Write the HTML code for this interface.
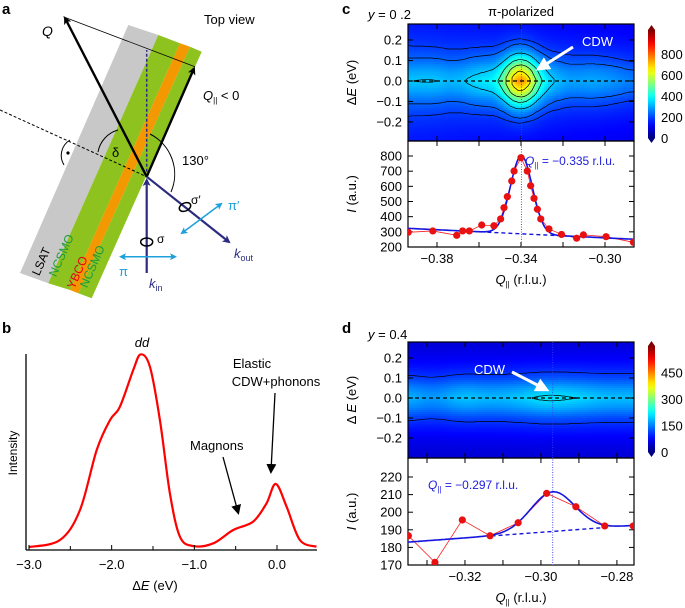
<!DOCTYPE html>
<html><head><meta charset="utf-8"><style>
html,body{margin:0;padding:0;background:#fff;}
svg{display:block;font-family:"Liberation Sans",sans-serif;}
</style></head><body>
<svg id="fig" width="685" height="608" viewBox="0 0 685 608" xmlns="http://www.w3.org/2000/svg">
<defs>
<marker id="ahK" markerWidth="8" markerHeight="8" refX="6" refY="4" orient="auto" markerUnits="userSpaceOnUse"><path d="M0,0 L8,4 L0,8 L2,4 Z" fill="#000"/></marker>
<marker id="ahN" markerWidth="8" markerHeight="8" refX="6" refY="4" orient="auto" markerUnits="userSpaceOnUse"><path d="M0,0 L8,4 L0,8 L2,4 Z" fill="#2b2b80"/></marker>
<marker id="ahB" markerWidth="7" markerHeight="7" refX="5" refY="3.5" orient="auto-start-reverse" markerUnits="userSpaceOnUse"><path d="M0,0 L7,3.5 L0,7 L1.5,3.5 Z" fill="#1ea0dc"/></marker>
<marker id="ahK2" markerWidth="10" markerHeight="10" refX="7" refY="5" orient="auto" markerUnits="userSpaceOnUse"><path d="M0,0 L10,5 L0,10 Z" fill="#000"/></marker>
<marker id="ahW" markerWidth="14" markerHeight="14" refX="9" refY="7" orient="auto" markerUnits="userSpaceOnUse"><path d="M0,0 L14,7 L0,14 Z" fill="#fff"/></marker>
<clipPath id="clipC"><rect x="408" y="24" width="226" height="117"/></clipPath>
<clipPath id="clipD"><rect x="408" y="342" width="226" height="116"/></clipPath>
<clipPath id="clipCL"><rect x="408" y="141" width="226" height="106"/></clipPath>
<clipPath id="clipDL"><rect x="408" y="458" width="226" height="107"/></clipPath>
</defs>

<g>
<text x="2" y="14" font-size="15" font-weight="bold">a</text>
<text x="204" y="24" font-size="13">Top view</text>
<polygon points="20,273 128.3,25 158.3,35 48.3,283.3" fill="#c8c8c8"/>
<polygon points="48.3,283.3 158.3,35 180,43.3 70,290" fill="#8dc21f"/>
<polygon points="70,290 180,43.3 190,46.7 78.3,293.3" fill="#f39800"/>
<polygon points="78.3,293.3 190,46.7 201.7,51.7 91.7,298.3" fill="#8dc21f"/>
<g font-size="12">
<text transform="translate(45,263) rotate(-66.4)" text-anchor="middle">LSAT</text>
<text transform="translate(65,257) rotate(-66.4)" text-anchor="middle" fill="#1a9a3a">NCSMO</text>
<text transform="translate(81,274) rotate(-66.4)" text-anchor="middle" fill="#e60012">YBCO</text>
<text transform="translate(96,268) rotate(-66.4)" text-anchor="middle" fill="#1a9a3a">NCSMO</text>
</g>
<line x1="146.7" y1="176.7" x2="146.7" y2="50" stroke="#2b2b80" stroke-width="1.5" stroke-dasharray="3,2"/>
<line x1="0" y1="110" x2="146.7" y2="176.7" stroke="#000" stroke-width="1" stroke-dasharray="3,2"/>
<line x1="63.3" y1="16.7" x2="195" y2="66.7" stroke="#000" stroke-width="0.8"/>
<line x1="146.7" y1="176.7" x2="65" y2="18" stroke="#000" stroke-width="2.4" marker-end="url(#ahK)"/>
<line x1="146.7" y1="176.7" x2="194" y2="68.5" stroke="#000" stroke-width="2.4" marker-end="url(#ahK)"/>
<line x1="146.7" y1="273" x2="146.7" y2="180" stroke="#2b2b80" stroke-width="2.2" marker-end="url(#ahN)"/>
<line x1="146.7" y1="176.7" x2="229" y2="242" stroke="#2b2b80" stroke-width="2.2" marker-end="url(#ahN)"/>
<path d="M98,152 A28,28 0 0 1 118,130" fill="none" stroke="#000" stroke-width="1"/>
<path d="M150,134 A45,45 0 0 1 171,192" fill="none" stroke="#000" stroke-width="1"/>
<path d="M70,140 A18,18 0 0 0 64,165" fill="none" stroke="#000" stroke-width="1"/>
<circle cx="68" cy="153" r="1.6" fill="#000"/>
<text x="112" y="157" font-size="13">δ</text>
<text x="182" y="165" font-size="13">130°</text>
<text x="42" y="36" font-size="14" font-style="italic">Q</text>
<text x="203" y="100" font-size="13"><tspan font-style="italic">Q</tspan><tspan font-size="8" dy="3">||</tspan><tspan dy="-3"> &lt; 0</tspan></text>
<ellipse cx="146.7" cy="242" rx="6" ry="4" fill="none" stroke="#000" stroke-width="1.5"/>
<ellipse cx="185" cy="207" rx="6" ry="4" fill="none" stroke="#000" stroke-width="1.5" transform="rotate(-25 185 207)"/>
<text x="157" y="243" font-size="12">σ</text>
<text x="191" y="204" font-size="12">σ′</text>
<line x1="121" y1="256.7" x2="175" y2="256.7" stroke="#1ea0dc" stroke-width="1.5" marker-start="url(#ahB)" marker-end="url(#ahB)"/>
<line x1="182" y1="233" x2="221" y2="204" stroke="#1ea0dc" stroke-width="1.5" marker-start="url(#ahB)" marker-end="url(#ahB)"/>
<text x="119" y="276" font-size="13" fill="#1ea0dc">π</text>
<text x="228" y="210" font-size="13" fill="#1ea0dc">π′</text>
<text x="149" y="288" font-size="13" fill="#2b2b80"><tspan font-style="italic">k</tspan><tspan font-size="9" dy="3">in</tspan></text>
<text x="234" y="258" font-size="13" fill="#2b2b80"><tspan font-style="italic">k</tspan><tspan font-size="9" dy="3">out</tspan></text>
</g>

<g id="panelB">
<text x="2" y="333" font-size="15" font-weight="bold">b</text>
<line x1="26" y1="354" x2="26" y2="550" stroke="#000" stroke-width="1.3"/>
<line x1="26" y1="550" x2="317" y2="550" stroke="#000" stroke-width="1.3"/>
<text transform="translate(17,453) rotate(-90)" text-anchor="middle" font-size="12">Intensity</text>
<text x="155" y="590" text-anchor="middle" font-size="13">Δ<tspan font-style="italic">E</tspan> (eV)</text>
<text x="142" y="347" text-anchor="middle" font-size="13" font-style="italic">dd</text>
<text x="190" y="450" font-size="13">Magnons</text>
<line x1="223" y1="457" x2="238" y2="512" stroke="#000" stroke-width="1.3" marker-end="url(#ahK2)"/>
<text x="252" y="368" text-anchor="middle" font-size="13">Elastic</text>
<text x="276" y="386" text-anchor="middle" font-size="13">CDW+phonons</text>
<line x1="275" y1="393" x2="271" y2="471" stroke="#000" stroke-width="1.3" marker-end="url(#ahK2)"/>
</g>

<text x="342" y="14" font-size="15" font-weight="bold">c</text>
<text x="368" y="19" font-size="13"><tspan font-style="italic">y</tspan> = 0 .2</text>
<text x="521" y="16" text-anchor="middle" font-size="13">π-polarized</text>
<text x="342" y="333" font-size="15" font-weight="bold">d</text>
<text x="368" y="339" font-size="13"><tspan font-style="italic">y</tspan> = 0.4</text>
<g id="chartC"></g>
<g id="chartD"></g>
</svg>
<script>
const bEnergy=[-3.0,-2.625,-2.383,-2.181,-2.02,-1.90,-1.739,-1.65,-1.537,-1.416,-1.295,-1.174,-1.01,-0.77,-0.53,-0.288,-0.127,-0.015,0.116,0.277,0.478];
const bIntensity=[1.5,5.1,20.4,51,66.3,73.1,91.8,99.8,93.5,66.3,28.9,6.8,2,3.4,10.2,14.5,23.8,33.7,22.1,5.1,1.7];
const bTicks=[-3.0,-2.0,-1.0,0.0];
const bMinor=[-2.5,-1.5,-0.5];

const cQ=[-0.3937,-0.382,-0.3706,-0.3678,-0.3646,-0.3587,-0.3529,-0.3497,-0.3481,-0.3465,-0.3444,-0.3433,-0.34,-0.337,-0.3354,-0.3338,-0.3322,-0.3306,-0.3267,-0.3207,-0.3135,-0.3103,-0.2995,-0.2865];
const cI=[297,306,277,306,306,345,340,385,459,532,635,701,789,701,604,521,449,385,319,283,258,280,268,231];
const cFit=[323,251,-0.3398,515,0.0052];
const cXTicks=[-0.38,-0.34,-0.30];
const cXMinor=[-0.38,-0.36,-0.34,-0.32,-0.30];
const cETicks=[0.2,0.1,0.0,-0.1,-0.2];
const cITicks=[200,300,400,500,600,700,800];
const cBarTicks=[0,200,400,600,800];
const cLevels=[190,228,330,430,530,640,760];
const cShapeE=[0,0.05,0.1,0.15,0.2,0.25,0.3];
const cShapeBg=[1,0.88,0.7,0.58,0.5,0.45,0.42];
const cShapePk=[1,0.8,0.5,0.22,0.08,0.03,0];

const dQ=[-0.3349,-0.3279,-0.3207,-0.3134,-0.306,-0.2985,-0.2908,-0.2832,-0.2757];
const dI=[186.6,171.5,195.6,186.6,194,210.7,203.1,192.2,192.2];
const dFit=[183,192.5,-0.2969,22.5,0.0058];
const dXTicks=[-0.32,-0.30,-0.28];
const dXMinor=[-0.33,-0.32,-0.31,-0.30,-0.29,-0.28];
const dETicks=[0.2,0.1,0.0,-0.1,-0.2];
const dITicks=[170,180,190,200,210,220];
const dBarTicks=[0,150,300,450];
const dLevels=[106,206];
const dShapeE=[0,0.05,0.1,0.15,0.2,0.25,0.3];
const dShapeBg=[1,0.85,0.62,0.48,0.38,0.31,0.27];
const dShapePk=[1,0.7,0.35,0.12,0.04,0.01,0];

const NS="http://www.w3.org/2000/svg";
function mk(tag,attrs,parent){const e=document.createElementNS(NS,tag);for(const k in attrs)e.setAttribute(k,attrs[k]);if(parent)parent.appendChild(e);return e;}
function lin(d0,d1,r0,r1){return v=>r0+(v-d0)*(r1-r0)/(d1-d0);}
function interp(xs,ys,x){if(x<=xs[0])return ys[0];for(let i=1;i<xs.length;i++){if(x<=xs[i]){const t=(x-xs[i-1])/(xs[i]-xs[i-1]);return ys[i-1]+t*(ys[i]-ys[i-1]);}}return ys[ys.length-1];}
function jet(x){x=Math.max(0,Math.min(1,x));const c=v=>Math.round(255*Math.max(0,Math.min(1,v)));return `rgb(${c(1.5-Math.abs(4*x-3))},${c(1.5-Math.abs(4*x-2))},${c(1.5-Math.abs(4*x-1))})`;}
function smoothPath(pts){let d=`M${pts[0][0]},${pts[0][1]}`;for(let i=0;i<pts.length-1;i++){const p0=pts[i-1]||pts[i],p1=pts[i],p2=pts[i+1],p3=pts[i+2]||p2;const c1=[p1[0]+(p2[0]-p0[0])/6,p1[1]+(p2[1]-p0[1])/6],c2=[p2[0]-(p3[0]-p1[0])/6,p2[1]-(p3[1]-p1[1])/6];d+=` C${c1[0].toFixed(1)},${c1[1].toFixed(1)} ${c2[0].toFixed(1)},${c2[1].toFixed(1)} ${p2[0].toFixed(1)},${p2[1].toFixed(1)}`;}return d;}

(function(){
const g=document.getElementById('panelB');
const x=lin(-3,0,29,277), y=lin(0,100,550,354);
const pts=bEnergy.map((e,i)=>[x(e),y(bIntensity[i])]);
const p=mk('path',{d:smoothPath(pts),fill:'none',stroke:'#ff0000','stroke-width':2.2},g);


bTicks.forEach(t=>{
 const l=mk('line',{x1:x(t),x2:x(t),y1:550,y2:545,stroke:'#000','stroke-width':1},g);
 
 
 const tx=mk('text',{x:x(t),y:569,'text-anchor':'middle','font-size':13},g);
 tx.textContent=(t<0?'−':'')+Math.abs(t).toFixed(1);
 
 
});
bMinor.forEach(t=>{
 const l=mk('line',{x1:x(t),x2:x(t),y1:550,y2:546,stroke:'#000','stroke-width':1},g);
 
 
});
})();

function drawPanel(o){
 const g=document.getElementById(o.id);
 const X=lin(o.q0,o.q1,408,634);
 const YE=lin(o.e0,o.e1,o.hy0,o.hy1);
 const YI=lin(o.i0,o.i1,o.ly0,o.ly1);
 const fit=o.fit;
 const bg=q=>fit[0]+(q-o.q0)*(fit[1]-fit[0])/(o.q1-o.q0);
 const gauss=q=>fit[3]*Math.exp(-0.5*Math.pow((q-fit[2])/fit[4],2));
 const smI=q=>{let s=0,n=0;for(let k=-2;k<=2;k++){s+=interp(o.dataQ,o.dataI,q+k*o.sm/2);n++;}return s/n;};
 const field=(q,e)=>{const b=bg(q);const pk=smI(q)-b;const ae=Math.abs(e);return Math.max(0,o.scale*(b*interp(o.sE,o.sB,ae)+o.gain*pk*interp(o.sE,o.sP,ae)));};
 const heat=mk('g',{'clip-path':`url(#${o.clip})`},g);
 
 
 const cw=2,ch=2;
 for(let px=408;px<634;px+=cw){
  const q=o.q0+(px+cw/2-408)*(o.q1-o.q0)/226;
  for(let py=o.hy0;py<o.hy1;py+=ch){
   const e=o.e0+(py+ch/2-o.hy0)*(o.e1-o.e0)/(o.hy1-o.hy0);
   const r=mk('rect',{x:px,y:py,width:cw+0.3,height:ch+0.3,fill:jet(field(q,e)/o.cmax)},heat);
   
   
  }
 }
 const cg=mk('g',{'clip-path':`url(#${o.clip})`,fill:'none',stroke:'#000','stroke-width':0.7},g);
 
 
 o.levels.forEach(lv=>{
  let runs=[],cur=null;
  for(let px=408;px<=634;px+=2){
   const q=o.q0+(px-408)*(o.q1-o.q0)/226;
   let ecross=null;
   if(field(q,0)>lv){for(let e=0;e<=0.32;e+=0.002){if(field(q,e)<lv){ecross=e;break;}}}
   if(ecross!==null){if(!cur){cur=[];runs.push(cur);}cur.push([px,ecross]);}else cur=null;
  }
  runs.forEach(run=>{
   const top=run.map(p=>[p[0],YE(p[1])]);
   const bot=run.map(p=>[p[0],YE(-p[1])]).reverse();
   const full=run.length>=110;
   let d;
   if(full){d='M'+top.map(p=>p[0]+','+p[1].toFixed(1)).join(' L')+' M'+bot.map(p=>p[0]+','+p[1].toFixed(1)).join(' L');}
   else{d='M'+top.concat(bot).map(p=>p[0]+','+p[1].toFixed(1)).join(' L')+' Z';}
   const pth=mk('path',{d:d},cg);
   
   
  });
 });
 const zl=mk('line',{x1:408,x2:634,y1:YE(0),y2:YE(0),stroke:'#000','stroke-width':1.2,'stroke-dasharray':'4,3'},g);
 
 
 const f1=mk('rect',{x:408,y:o.hy0,width:226,height:o.hy1-o.hy0,fill:'none',stroke:'#000','stroke-width':1.2},g);
 
 
 const f2=mk('rect',{x:408,y:o.ly0,width:226,height:o.ly1-o.ly0,fill:'none',stroke:'#000','stroke-width':1.2},g);
 
 
 o.xMinor.forEach(t=>{
  [[o.hy0,o.hy0+5],[o.hy1,o.hy1-5],[o.hy1,o.hy1+5],[o.ly1,o.ly1-5]].forEach(s=>{
   const l=mk('line',{x1:X(t),x2:X(t),y1:s[0],y2:s[1],stroke:'#000','stroke-width':1},g);
   
   
  });
 });
 o.xTicks.forEach(t=>{
  const tx=mk('text',{x:X(t),y:o.ly1+16,'text-anchor':'middle','font-size':13},g);
  tx.textContent='−'+Math.abs(t).toFixed(2);
  
  
 });
 o.eTicks.forEach(t=>{
  [[408,413],[634,629]].forEach(s=>{
   const l=mk('line',{x1:s[0],x2:s[1],y1:YE(t),y2:YE(t),stroke:'#000','stroke-width':1},g);
   
   
  });
  const tx=mk('text',{x:402,y:YE(t)+4.5,'text-anchor':'end','font-size':13},g);
  tx.textContent=(t<0?'−':'')+Math.abs(t).toFixed(1);
  
  
 });
 o.iTicks.forEach(t=>{
  [[408,413],[634,629]].forEach(s=>{
   const l=mk('line',{x1:s[0],x2:s[1],y1:YI(t),y2:YI(t),stroke:'#000','stroke-width':1},g);
   
   
  });
  const tx=mk('text',{x:402,y:YI(t)+4.5,'text-anchor':'end','font-size':13},g);
  tx.textContent=String(t);
  
  
 });
 const t1=mk('text',{transform:`translate(${o.etx},${(o.hy0+o.hy1)/2}) rotate(-90)`,'text-anchor':'middle','font-size':13},g);
 t1.innerHTML=o.eTitle;
 
 
 const t2=mk('text',{transform:`translate(${o.etx},${(o.ly0+o.ly1)/2}) rotate(-90)`,'text-anchor':'middle','font-size':13},g);
 t2.innerHTML='<tspan font-style="italic">I</tspan> (a.u.)';
 
 
 const t3=mk('text',{x:521,y:o.ly1+37,'text-anchor':'middle','font-size':13},g);
 t3.innerHTML='<tspan font-style="italic">Q</tspan><tspan font-size="8" dy="3">||</tspan><tspan dy="-3"> (r.l.u.)</tspan>';
 
 
 const lg=mk('g',{'clip-path':`url(#${o.lclip})`},g);
 
 
 const vl=mk('line',{x1:X(fit[2]),x2:X(fit[2]),y1:o.hy0,y2:o.ly1,stroke:'#3b3bff','stroke-width':0.9,'stroke-dasharray':'1,1.5'},g);
 
 
 const dl=mk('polyline',{points:o.dataQ.map((q,i)=>X(q)+','+YI(o.dataI[i])).join(' '),fill:'none',stroke:'#ff2020','stroke-width':0.8},lg);
 
 
 const bgl=mk('line',{x1:X(o.dash[0]),x2:X(o.dash[1]),y1:YI(bg(o.dash[0])),y2:YI(bg(o.dash[1])),stroke:'#1515e0','stroke-width':1.4,'stroke-dasharray':'4,3'},lg);
 
 
 let fp=[];for(let px=408;px<=634;px+=1){const q=o.q0+(px-408)*(o.q1-o.q0)/226;fp.push(px+','+YI(bg(q)+gauss(q)).toFixed(1));}
 const fl=mk('polyline',{points:fp.join(' '),fill:'none',stroke:'#1515e0','stroke-width':1.6},lg);
 
 
 o.dataQ.forEach((q,i)=>{
  const c=mk('circle',{cx:X(q),cy:YI(o.dataI[i]),r:3.6,fill:'#e81010'},lg);
  
  
 });
 const ql=mk('text',{x:o.qlx,y:o.qly,'font-size':12,fill:'#2020e0'},g);
 ql.innerHTML='<tspan font-style="italic">Q</tspan><tspan font-size="8" dy="3">||</tspan><tspan dy="-3"> = '+o.qText+' r.l.u.</tspan>';
 
 
 const ar=mk('line',{x1:o.ar[0],y1:o.ar[1],x2:o.ar[2],y2:o.ar[3],stroke:'#fff','stroke-width':3,'marker-end':'url(#ahW)'},g);
 
 
 const ct=mk('text',{x:o.ct[0],y:o.ct[1],'font-size':13,fill:'#fff'},g);
 ct.textContent='CDW';
 
 
 const BY=lin(0,o.cmax,o.by1,o.by0);
 const gid=o.pfx+'grad';
 const defs=document.querySelector('defs');
 const grad=mk('linearGradient',{id:gid,x1:0,y1:1,x2:0,y2:0},defs);
 for(let i=0;i<=20;i++)mk('stop',{offset:i/20,'stop-color':jet(i/20)},grad);
 const cb=mk('rect',{x:648,y:o.by0,width:7,height:o.by1-o.by0,fill:`url(#${gid})`},g);
 
 
 const tt=mk('polygon',{points:`648,${o.by0} 655,${o.by0} 651.5,${o.by0-5}`,fill:jet(1)},g);
 
 
 const tb=mk('polygon',{points:`648,${o.by1} 655,${o.by1} 651.5,${o.by1+5}`,fill:jet(0)},g);
 
 
 o.barTicks.forEach(t=>{
  const tx=mk('text',{x:661,y:BY(t)+5,'font-size':13},g);
  tx.textContent=String(t);
  
  
 });
}

drawPanel({id:'chartC',pfx:'c',q0:-0.3938,q1:-0.2862,e0:0.278,e1:-0.293,hy0:24,hy1:141,i0:899,i1:200,ly0:141,ly1:247,
 dataQ:cQ,dataI:cI,fit:cFit,scale:1.1,gain:0.95,sm:0.004,sE:cShapeE,sB:cShapeBg,sP:cShapePk,cmax:1030,levels:cLevels,
 xTicks:cXTicks,xMinor:cXMinor,eTicks:cETicks,iTicks:cITicks,barTicks:cBarTicks,clip:'clipC',lclip:'clipCL',
 etx:356,eTitle:'Δ<tspan font-style="italic">E</tspan> (eV)',dash:[-0.356,-0.318],qlx:525,qly:165,qText:'−0.335',
 ar:[573,47,540,68],ct:[582,46],by0:30,by1:138});
drawPanel({id:'chartD',pfx:'d',q0:-0.335,q1:-0.2755,e0:0.28,e1:-0.30,hy0:342,hy1:458,i0:230.8,i1:170,ly0:458,ly1:565,
 dataQ:dQ,dataI:dI,fit:dFit,scale:0.98,gain:1.6,sm:0.003,sE:dShapeE,sB:dShapeBg,sP:dShapePk,cmax:600,levels:dLevels,
 xTicks:dXTicks,xMinor:dXMinor,eTicks:dETicks,iTicks:dITicks,barTicks:dBarTicks,clip:'clipD',lclip:'clipDL',
 etx:356,eTitle:'Δ <tspan font-style="italic">E</tspan> (eV)',dash:[-0.313,-0.284],qlx:428,qly:489,qText:'−0.297',
 ar:[512,372,545,389],ct:[474,374],by0:346,by1:452});
</script>
</body></html>
